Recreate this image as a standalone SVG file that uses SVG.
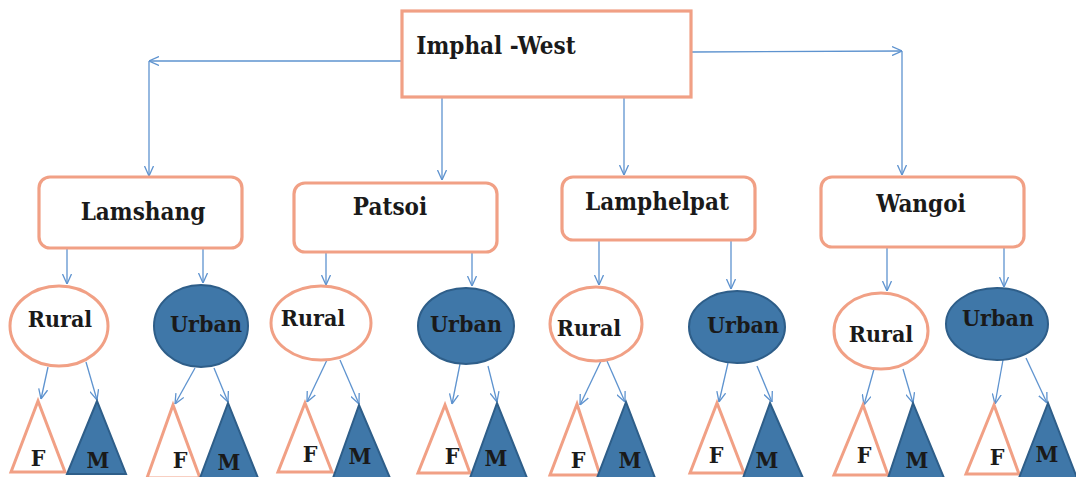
<svg xmlns="http://www.w3.org/2000/svg" width="1076" height="477" viewBox="0 0 1076 477">
<style>
.box{fill:#fff;stroke:#F1A085;stroke-width:3.2}
.rural{fill:#fff;stroke:#F1A085;stroke-width:3}
.urban{fill:#3F77A8;stroke:#2E5E89;stroke-width:2}
.tf{fill:#fff;stroke:#F1A085;stroke-width:3;stroke-linejoin:miter}
.tm{fill:#3F77A8;stroke:#2E5E89;stroke-width:2}
.lbl{font-family:"DejaVu Serif Condensed","DejaVu Serif",serif;font-stretch:condensed;font-weight:bold;font-size:24px;fill:#1a1a1a;text-anchor:middle}
.sm{font-size:23px}
.con line{stroke:#5E93CF;stroke-width:1.3;fill:none;marker-end:url(#arr)}
</style>
<defs>
<marker id="arr" viewBox="0 0 10 10" refX="10" refY="5" markerWidth="10" markerHeight="10" markerUnits="userSpaceOnUse" orient="auto">
<path d="M0,0.5 L10,5 L0,9.5" fill="none" stroke="#5E93CF" stroke-width="1.3"/>
</marker>
</defs>
<rect width="1076" height="477" fill="#fff"/>
<g id="connectors" class="con">
<line x1="402" y1="61" x2="149" y2="61"/>
<line x1="149" y1="61" x2="149" y2="176"/>
<line x1="692" y1="52" x2="902" y2="51"/>
<line x1="902" y1="51" x2="902" y2="175"/>
<line x1="442" y1="97" x2="442" y2="180"/>
<line x1="624" y1="97" x2="624" y2="175"/>
<line x1="67" y1="248" x2="67" y2="284"/>
<line x1="203" y1="248" x2="203" y2="283"/>
<line x1="326" y1="252" x2="326" y2="285"/>
<line x1="472" y1="252" x2="472" y2="286"/>
<line x1="599" y1="240" x2="599" y2="285"/>
<line x1="731" y1="240" x2="731" y2="289"/>
<line x1="887" y1="247" x2="887" y2="291"/>
<line x1="1004" y1="247" x2="1004" y2="287"/>
<line x1="48" y1="367" x2="41" y2="399"/>
<line x1="86" y1="362" x2="97" y2="400"/>
<line x1="195" y1="368" x2="175" y2="404"/>
<line x1="214" y1="368" x2="228" y2="402"/>
<line x1="327" y1="360" x2="307" y2="402"/>
<line x1="340" y1="360" x2="359" y2="404"/>
<line x1="460" y1="364" x2="452" y2="404"/>
<line x1="488" y1="366" x2="497" y2="402"/>
<line x1="601" y1="361" x2="580" y2="405"/>
<line x1="607" y1="361" x2="625" y2="402"/>
<line x1="728" y1="363" x2="719" y2="402"/>
<line x1="757" y1="366" x2="772" y2="402"/>
<line x1="874" y1="369" x2="864" y2="405"/>
<line x1="903" y1="369" x2="913" y2="403"/>
<line x1="1003" y1="360" x2="995" y2="404"/>
<line x1="1026" y1="358" x2="1047" y2="403"/>
</g>
<g id="imphal-west"><rect class="box" x="402" y="11" width="289" height="86"/><text class="lbl" x="496" y="54">Imphal -West</text></g>
<g id="lamshang"><rect class="box" x="39" y="177" width="203" height="71" rx="11"/><text class="lbl" x="143" y="220">Lamshang</text></g>
<g id="patsoi"><rect class="box" x="294" y="183" width="203" height="69" rx="11"/><text class="lbl" x="390" y="215">Patsoi</text></g>
<g id="lamphelpat"><rect class="box" x="562" y="177" width="193" height="63" rx="11"/><text class="lbl" x="657" y="210">Lamphelpat</text></g>
<g id="wangoi"><rect class="box" x="821" y="177" width="203" height="70" rx="11"/><text class="lbl" x="921" y="212">Wangoi</text></g>
<g id="rural1"><ellipse class="rural" cx="59" cy="326" rx="49" ry="40"/><text class="lbl sm" x="60" y="327">Rural</text></g>
<g id="urban1"><ellipse class="urban" cx="201" cy="326" rx="47" ry="41"/><text class="lbl sm" x="206" y="332">Urban</text></g>
<g id="rural2"><ellipse class="rural" cx="321" cy="323" rx="50" ry="37"/><text class="lbl sm" x="313" y="326">Rural</text></g>
<g id="urban2"><ellipse class="urban" cx="466" cy="326" rx="48" ry="38"/><text class="lbl sm" x="466" y="332">Urban</text></g>
<g id="rural3"><ellipse class="rural" cx="596" cy="324" rx="46" ry="37"/><text class="lbl sm" x="589" y="336">Rural</text></g>
<g id="urban3"><ellipse class="urban" cx="737" cy="327" rx="48" ry="36"/><text class="lbl sm" x="743" y="333">Urban</text></g>
<g id="rural4"><ellipse class="rural" cx="881" cy="331" rx="47" ry="38"/><text class="lbl sm" x="881" y="342">Rural</text></g>
<g id="urban4"><ellipse class="urban" cx="997" cy="324" rx="51" ry="36"/><text class="lbl sm" x="998" y="326">Urban</text></g>
<g id="f1"><polygon class="tf" points="38,401 11,472 65,472"/><text class="lbl sm" x="38" y="466">F</text></g>
<g id="m1"><polygon class="tm" points="97,401 67,474 126,474"/><text class="lbl sm" x="98" y="468">M</text></g>
<g id="f2"><polygon class="tf" points="173,405 147,478 200,478"/><text class="lbl sm" x="180" y="468">F</text></g>
<g id="m2"><polygon class="tm" points="228,403 200,478 258,478"/><text class="lbl sm" x="229" y="470">M</text></g>
<g id="f3"><polygon class="tf" points="305,403 278,472 332,472"/><text class="lbl sm" x="310" y="462">F</text></g>
<g id="m3"><polygon class="tm" points="359,405 333,478 390,478"/><text class="lbl sm" x="360" y="464">M</text></g>
<g id="f4"><polygon class="tf" points="445,405 418,473 470,473"/><text class="lbl sm" x="452" y="464">F</text></g>
<g id="m4"><polygon class="tm" points="497,403 470,478 527,478"/><text class="lbl sm" x="496" y="466">M</text></g>
<g id="f5"><polygon class="tf" points="577,404 550,475 600,475"/><text class="lbl sm" x="578" y="468">F</text></g>
<g id="m5"><polygon class="tm" points="626,402 597,478 655,478"/><text class="lbl sm" x="630" y="468">M</text></g>
<g id="f6"><polygon class="tf" points="717,403 690,473 744,473"/><text class="lbl sm" x="716" y="463">F</text></g>
<g id="m6"><polygon class="tm" points="770,403 743,478 803,478"/><text class="lbl sm" x="767" y="468">M</text></g>
<g id="f7"><polygon class="tf" points="863,405 834,475 888,475"/><text class="lbl sm" x="864" y="463">F</text></g>
<g id="m7"><polygon class="tm" points="913,403 888,478 944,478"/><text class="lbl sm" x="917" y="468">M</text></g>
<g id="f8"><polygon class="tf" points="994,405 966,474 1019,474"/><text class="lbl sm" x="997" y="465">F</text></g>
<g id="m8"><polygon class="tm" points="1048,403 1019,478 1077,478"/><text class="lbl sm" x="1047" y="462">M</text></g>
</svg>
